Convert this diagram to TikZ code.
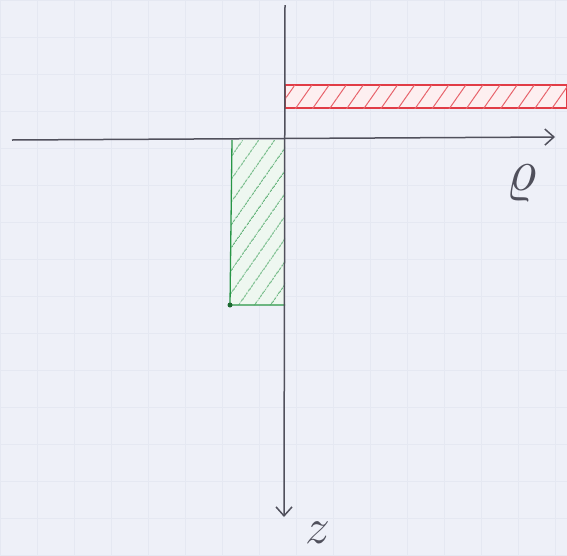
\documentclass[tikz,border=0pt]{standalone}
\usepackage{amsmath,amssymb}
\usepackage{tikz}
\usetikzlibrary{arrows.meta,patterns.meta}

\definecolor{paper}{RGB}{238,240,248}
\definecolor{gridc}{RGB}{229,232,242}
\definecolor{axisgray}{RGB}{80,80,92}
\definecolor{penred}{RGB}{225,60,70}
\definecolor{pengreen}{RGB}{40,150,70}

\begin{document}
\begin{tikzpicture}[
  x=1pt, y=-1pt,
  axis/.style={draw=axisgray, line width=1.5pt,
               -{Straight Barb[length=9pt, width=16pt, line width=1.5pt]}},
  lbl/.style={text=axisgray, inner sep=0pt, font=\Huge},
  redstrip/.style={draw=penred, line width=1.3pt,
                   fill=penred!8,
                   postaction={pattern={Lines[angle=55, distance=14pt, line width=1pt]},
                               pattern color=penred!80}},
  greenbox/.style={line width=1.3pt, fill=pengreen!8,
                   postaction={pattern={Lines[angle=55, distance=13pt, line width=1pt]},
                               pattern color=pengreen!70}}
]
\useasboundingbox (0,0) rectangle (567,555);
\fill[paper] (0,0) rectangle (567,555);
\draw[gridc, line width=0.6pt, step=37pt] (0,0) grid (567,555);

% hatched regions
\path[redstrip] (285,85) rectangle (567,108);
\path[greenbox] (232,140) -- (230,305) -- (285,305) -- (285,140) -- cycle;
\draw[pengreen, line width=1.3pt] (232,140) -- (230,305) -- (285,305);
\fill[pengreen!70!black] (230,305) circle (2.5pt);

% axes
\coordinate (rl) at (12,140);
\coordinate (rr) at (555,137);
\coordinate (zt) at (285,5);
\coordinate (zb) at (284,517);
\draw[axis] (rl) -- (rr);
\draw[axis] (zt) -- (zb);

% labels
\node[lbl, scale=2.4] (rho) at (522,183) {$\varrho$};
\node[lbl, scale=2.0] (z) at (318,533) {$z$};
\end{tikzpicture}
\end{document}
